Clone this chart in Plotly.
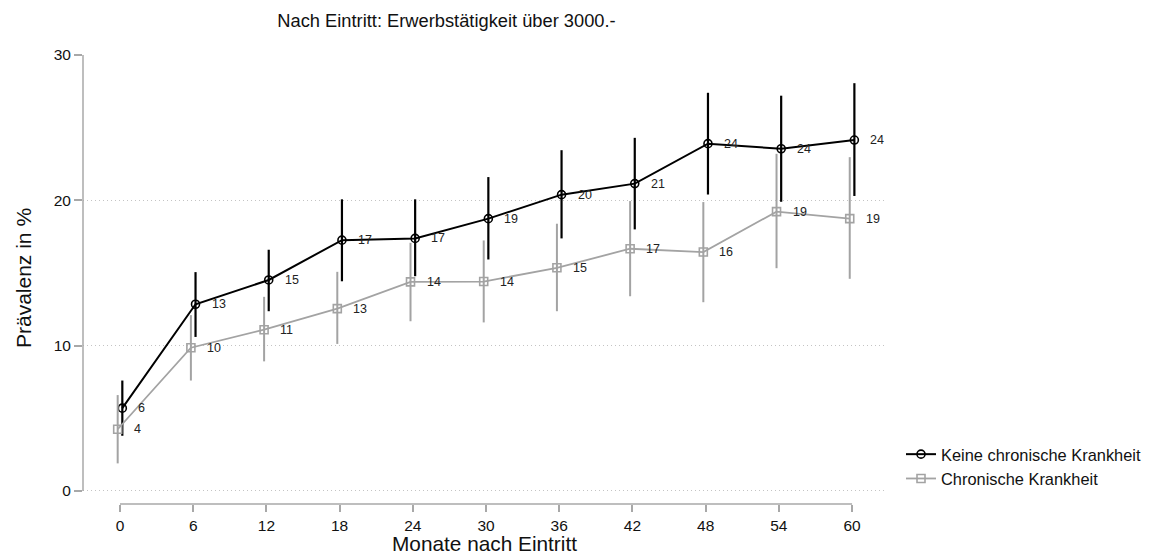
import plotly.graph_objects as go

months = [0, 6, 12, 18, 24, 30, 36, 42, 48, 54, 60]
x_ticks = [0, 6, 12, 18, 24, 30, 36, 42, 48, 54, 60]
y_ticks = [0, 10, 20, 30]

# Keine chronische Krankheit
none_val = [5.7, 12.85, 14.52, 17.26, 17.38, 18.74, 20.39, 21.15, 23.9, 23.55, 24.15]
none_lo = [3.8, 10.6, 12.37, 14.43, 14.78, 15.93, 17.38, 18.0, 20.4, 19.9, 20.3]
none_hi = [7.6, 15.06, 16.6, 20.07, 20.07, 21.6, 23.45, 24.3, 27.4, 27.2, 28.06]

# Chronische Krankheit
chron_val = [4.25, 9.86, 11.1, 12.55, 14.39, 14.41, 15.36, 16.67, 16.44, 19.22, 18.74]
chron_lo = [1.9, 7.6, 8.92, 10.12, 11.68, 11.6, 12.37, 13.4, 12.99, 15.33, 14.6]
chron_hi = [6.6, 12.1, 13.36, 15.08, 17.08, 17.24, 18.39, 19.95, 19.88, 23.2, 22.97]

series_names = ["Keine chronische Krankheit", "Chronische Krankheit"]
title_text = "Nach Eintritt: Erwerbstätigkeit über 3000.-"
x_title = "Monate nach Eintritt"
y_title = "Prävalenz in %"

FONT = "Liberation Sans, Arial, Helvetica, sans-serif"
BLACK = "#000000"
GRAY = "#a3a3a3"
AXIS = "#a8a8a8"
TXT = "#111111"
OFFSET = 0.19

W, H = 1144, 549  # page has an 8px body margin

fig = go.Figure()

def add_series(vals, lo, hi, name, color, symbol, shift, lw, ew):
    xs = [m + shift for m in months]
    fig.add_trace(go.Scatter(
        x=xs, y=vals, name=name, mode="lines+markers",
        line=dict(color=color, width=lw),
        marker=dict(symbol=symbol, size=8, color=color, line=dict(color=color, width=1.6)),
        error_y=dict(type="data", symmetric=False,
                     array=[h - v for h, v in zip(hi, vals)],
                     arrayminus=[v - l for v, l in zip(vals, lo)],
                     color=color, thickness=ew, width=0),
    ))
    for x, v in zip(xs, vals):
        fig.add_annotation(x=x, y=v, text=f"{v:.0f}", showarrow=False,
                           xanchor="left", yanchor="middle", xshift=14,
                           font=dict(family=FONT, size=12.5, color="#222222"))

add_series(chron_val, chron_lo, chron_hi, series_names[1], GRAY, "square-open", -OFFSET, 1.8, 2)
add_series(none_val, none_lo, none_hi, series_names[0], BLACK, "circle-open", OFFSET, 2, 2.2)

# legend order: black first, drawn on top
fig.data = (fig.data[1], fig.data[0])

# axis lines restricted to the value range
fig.add_shape(type="line", xref="paper", yref="y", x0=0, x1=0, y0=y_ticks[0], y1=y_ticks[-1],
              line=dict(color=AXIS, width=1.5))
fig.add_shape(type="line", xref="x", yref="paper", x0=x_ticks[0], x1=x_ticks[-1], y0=0, y1=0,
              line=dict(color=AXIS, width=1.5))

# axis titles
fig.add_annotation(xref="paper", yref="paper", x=0.5, y=0, yanchor="bottom", yshift=-53,
                   text=x_title, showarrow=False, font=dict(family=FONT, size=20.8, color=TXT))
fig.add_annotation(xref="paper", yref="paper", x=0, y=0.5033, xanchor="center", xshift=-60,
                   textangle=-90, text=y_title, showarrow=False,
                   font=dict(family=FONT, size=21, color=TXT))

fig.update_layout(
    width=W, height=H,
    margin=dict(l=75, r=267, t=47, b=53),
    paper_bgcolor="white", plot_bgcolor="white",
    font=dict(family=FONT, color=TXT),
    title=dict(text=title_text, x=438.5 / W, xanchor="center", xref="container",
               y=1 - 13 / H, yanchor="middle", yref="container",
               font=dict(family=FONT, size=18.3, color=TXT)),
    showlegend=True,
    legend=dict(xref="container", yref="container", x=893 / W, xanchor="left",
                y=1 - 429 / H, yanchor="top", font=dict(family=FONT, size=16.4, color=TXT),
                bgcolor="rgba(0,0,0,0)", tracegroupgap=0),
    xaxis=dict(range=[-3.033, 62.70], tickmode="array", tickvals=x_ticks,
               ticktext=[str(t) for t in x_ticks], showgrid=False, zeroline=False,
               showline=False, ticks="outside", ticklen=7, tickwidth=1.5, tickcolor=AXIS,
               tickfont=dict(family=FONT, size=15.5, color=TXT), automargin=False),
    yaxis=dict(range=[-0.895, 30], tickmode="array", tickvals=y_ticks,
               ticktext=[str(t) for t in y_ticks], showgrid=True, gridcolor="#c4c4c4",
               griddash="1px,3px", gridwidth=1, zeroline=False, showline=False,
               ticks="outside", ticklen=8, tickwidth=1.5, tickcolor=AXIS,
               tickfont=dict(family=FONT, size=15.5, color=TXT), automargin=False),
)

fig.write_html("out.html")
